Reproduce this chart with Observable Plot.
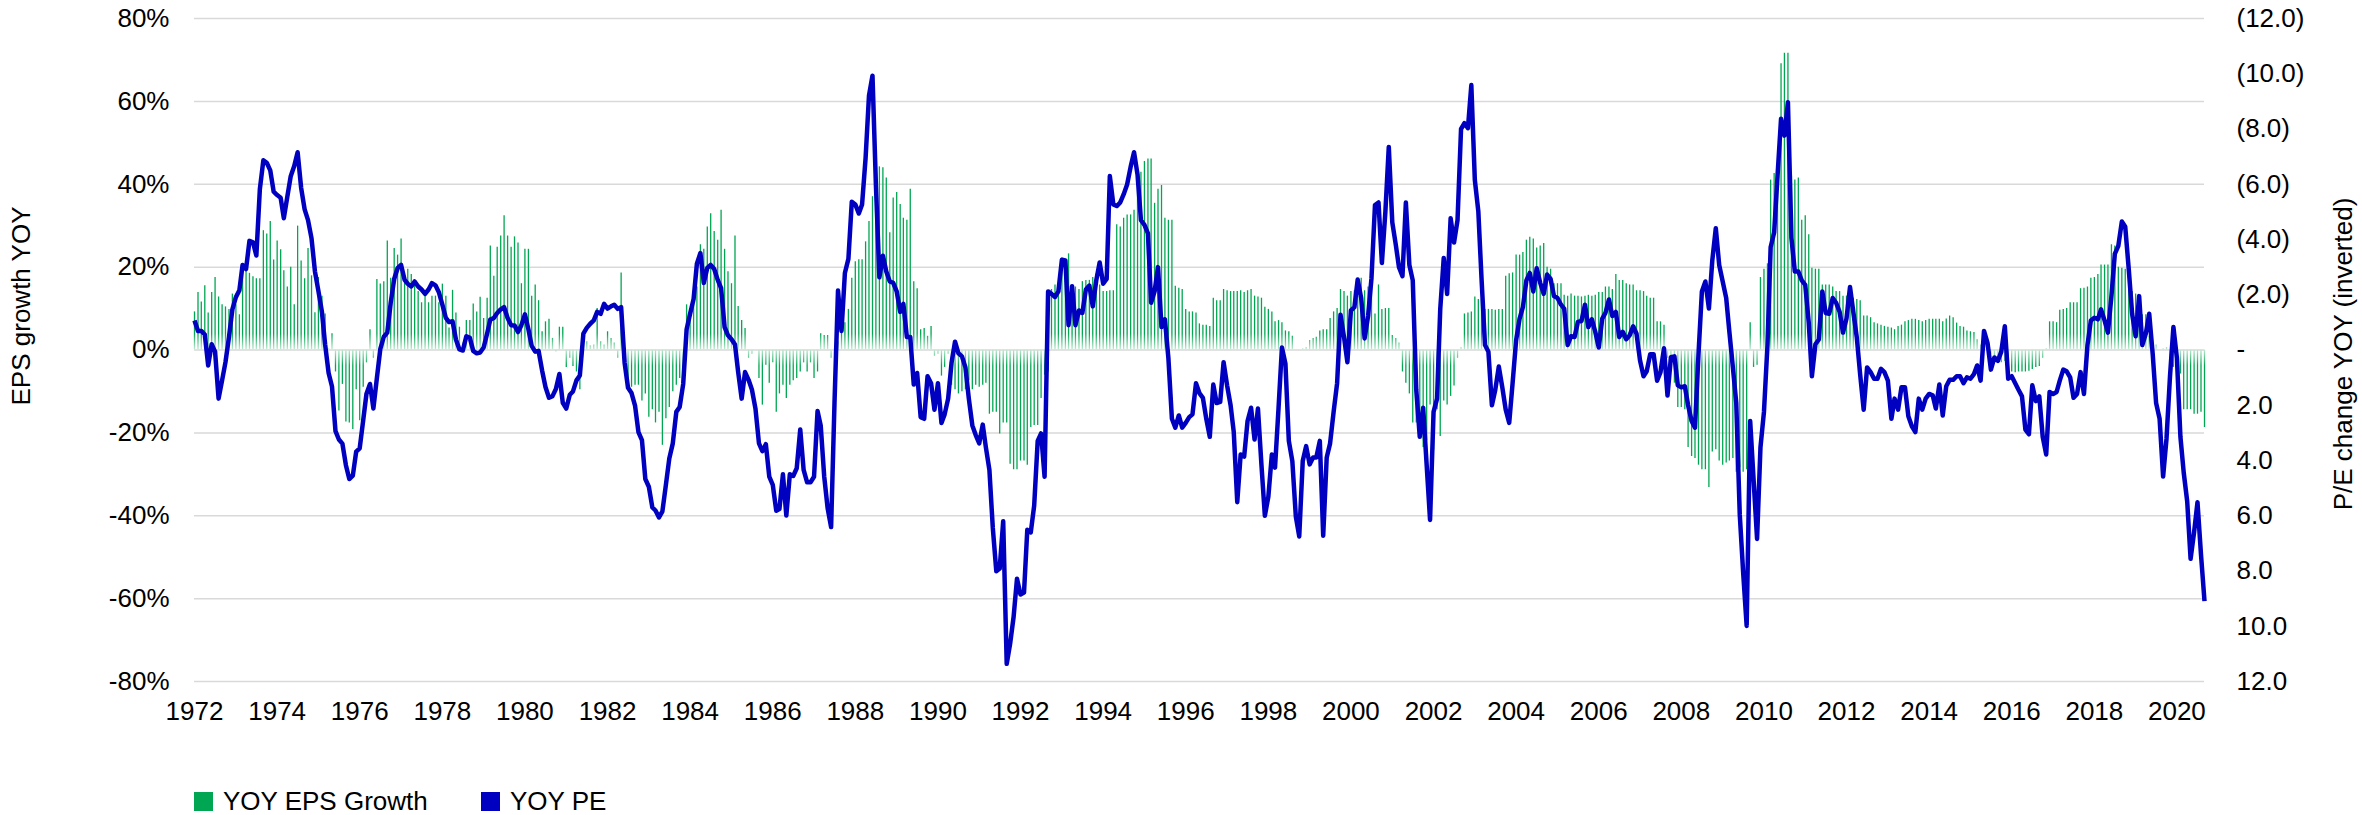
<!DOCTYPE html>
<html>
<head>
<meta charset="utf-8">
<script src="https://cdn.jsdelivr.net/npm/d3@7"></script>
<script src="https://cdn.jsdelivr.net/npm/@observablehq/plot@0.6"></script>
<style>
  html, body { margin: 0; padding: 0; background: #fff; }
  #wrap { position: relative; width: 2362px; height: 815px; overflow: hidden;
          font-family: "Liberation Sans", Arial, sans-serif; color: #000; background: #fff; }
  #wrap svg { position: absolute; left: 0; top: 0; }
  .ytitle { position: absolute; font-size: 26px; white-space: nowrap; writing-mode: vertical-rl;
            transform: translate(-50%, -50%) rotate(180deg); line-height: 1; }
  .leg { position: absolute; top: 787px; height: 28px; display: flex; align-items: center; font-size: 26px; white-space: nowrap; }
  .sw { width: 19px; height: 19px; display: inline-block; margin-right: 10px; }
</style>
</head>
<body>
<div id="wrap"></div>
<script>
// ---- data (monthly, starting January 1972) ----
const startYear = 1972;

// YOY EPS growth, % (left axis)
const epsGrowth = [
  9.2, 13.9, 11.6, 15.5, 8.9, 13.9, 17.5, 12.8, 10.9, 10.4, 9.8, 13.5,          // 1972
  10.9, 8.5, 19.7, 19.2, 18.5, 17.7, 17.2, 17.2, 28.8, 28, 31, 21.7,            // 1973
  26.3, 24.2, 19.1, 15.2, 20, 10.9, 29.9, 21.5, 17.2, 24.5, 17.9, 9,            // 1974
  17.5, 13, 8.7, 0.3, 3.9, -5.3, -14.7, -8.3, -17.4, -17.6, -19.2, -9.6,         // 1975
  -17.1, -9, -3.1, 4.9, -2, 17, 15.9, 16.5, 26.3, 17.3, 24.5, 22.9,             // 1976
  26.8, 16.5, 19.5, 18.2, 16.5, 14.1, 11.4, 13, 11.4, 13, 13, 11.4,             // 1977
  15.9, 13, 5.3, 14.4, 8.9, 5.5, 1.7, 7.1, 7.1, 11.1, 9.2, 12.7,                // 1978
  7.6, 12.5, 25.1, 17.8, 24.8, 27.5, 32.4, 27.5, 24.8, 27.3, 25.8, 16,          // 1979
  24.3, 24.3, 13, 15.7, 11.9, 4.4, 6.8, 7.4, 2.8, -0.5, 5.5, 5.5,               // 1980
  -4.2, -2, -4, -5.3, -9.6, -1, 2, 1, 1.2, 10, 2, 1.2,                          // 1981
  4.4, 2.8, 1.7, -2, 18.6, -1, -8.5, -9, -8.5, -8.5, -12.3, -10.6,              // 1982
  -16.2, -14.4, -17.6, -15, -23, -16.6, -13.9, -10.1, -8.5, -6.9, -5.8, 10.9,   // 1983
  8.7, 11.4, 15.2, 25.4, 24.3, 29.7, 32.9, 28.6, 26.5, 33.7, 24.3, 18.9,        // 1984
  16, 27.5, 10.5, 7.1, 5.2, -2, -1, 0, -6.9, -13.3, -3.7, -8,                   // 1985
  -3.1, -15, -10.6, -8.5, -11.7, -8.5, -7.4, -6.9, -5.3, -3.1, -5.3, -3.1,      // 1986
  -6.9, -5.3, 3.9, 3.5, 3.5, -2, -1, 2, 4.9, 6.6, 9.8, 17.3,                    // 1987
  21.3, 21.8, 21.8, 26.1, 31, 37, 44.2, 44.2, 44, 41.5, 28.3, 36.7,             // 1988
  38, 35.1, 31.8, 31.3, 38.8, 16.5, 14.8, 4.9, 5.2, 3.3, 5.7, -1.5,             // 1989
  -1, -6.3, -4.2, -1, -8.5, -9.6, -10.6, -10.1, -9.6, -7.4, -9.6, -8.5,         // 1990
  -9, -8.5, -8, -15.5, -15, -15, -20.3, -17.6, -17.6, -27.6, -28.9, -28.9,      // 1991
  -26.8, -26.8, -27.8, -18.7, -18.2, -18.2, -11.7, -6.1, -5.3, 14.6, 15.7, 16,  // 1992
  22.2, 21.6, 23.2, 14.1, 15.2, 14.6, 16.5, 16.8, 16.8, 17.5, 18.4, 15.7,       // 1993
  14.1, 14.1, 14.3, 14.3, 30.2, 29.7, 31.8, 32.6, 32.6, 33.7, 42, 42.9,         // 1994
  45.5, 46.1, 46.1, 35.4, 38.8, 39.7, 31.8, 31.3, 31.3, 15.4, 14.9, 14.6,       // 1995
  9.8, 9.2, 9.2, 8.9, 6.3, 6, 6, 5.7, 12.5, 11.9, 11.9, 14.6,                   // 1996
  14.3, 14.1, 14.1, 14.1, 14.3, 13.9, 14.3, 14.6, 13, 12.8, 12.5, 10.3,         // 1997
  9.8, 9.2, 6.8, 7.1, 6.6, 4.6, 4.4, 3.3, 0, 0, 0.3, 0.6,                       // 1998
  2.3, 2.8, 3.1, 4.6, 4.9, 4.9, 7.6, 9.2, 10, 14.6, 14.1, 13,                   // 1999
  14.1, 14.3, 13, 17.3, 14.3, 15.2, 17.1, 8.7, 15.7, 9.8, 10, 10,               // 2000
  3.5, 2.8, 1.7, -5.3, -8, -10.6, -17.6, -17.6, -18, -23.5, -21.9, -13.3,       // 2001
  -24.1, -14.4, -20.9, -12.3, -13.3, -11.2, -8.7, -2, 0.6, 8.7, 8.9, 9.2,       // 2002
  12.8, 12.2, 12.2, 9.8, 9.8, 9.8, 9.6, 9.8, 9.8, 17.8, 18.4, 18.6,             // 2003
  22.9, 22.9, 23.5, 26.5, 27.2, 26.8, 24.6, 25.1, 25.7, 20, 19.5, 16,           // 2004
  16, 16, 13.2, 13, 13.5, 13, 13, 12.8, 13, 13.2, 13, 13.2,                     // 2005
  13.9, 13.9, 15.2, 15.2, 14.6, 18.2, 16.8, 16.8, 16, 15.7, 15.7, 14.3,         // 2006
  14.3, 14.1, 13, 12.5, 12.5, 6.8, 6.8, 6, -2, -5, -8, -13.9,                   // 2007
  -13.9, -14.4, -23.5, -25.7, -26.2, -27.8, -28.9, -28.9, -33.2, -24.6, -24.1, -26.8, // 2008
  -27.8, -27.3, -26.8, -26.2, -29.5, -28.4, -29.5, -28.9, 6.6, -4.2, -3.7, 17.5, // 2009
  19.5, 20.8, 41, 42.6, 42.6, 69.1, 71.6, 71.6, 42, 41, 41.5, 31.3,             // 2010
  32.4, 27.8, 19.7, 19.5, 19.5, 15.7, 15.7, 15.7, 15.2, 14.1, 14.1, 13,         // 2011
  13, 13, 12.5, 12.2, 11.9, 8.2, 8.2, 7.8, 6.6, 6.3, 6, 5.7,                    // 2012
  5.5, 5.3, 4.9, 5.7, 6, 6.8, 7.1, 7.4, 7.4, 7.1, 6.8, 7.1,                     // 2013
  7.4, 7.4, 7.4, 7.4, 6.8, 7.5, 8.2, 7.8, 6.5, 5.7, 5.5, 4.6,                   // 2014
  4.4, 4.2, 2.5, 1.2, 0.3, -0.4, -1, -1.5, -2, -3.1, -2.8, -3.1,                // 2015
  -5.3, -5.5, -5.3, -5.3, -5.3, -5.1, -4.7, -4.2, -4, -2, 0.3, 6.8,             // 2016
  6.8, 6.6, 9.6, 9.8, 10, 11.4, 11.4, 11.4, 14.8, 14.9, 15.2, 17.3,             // 2017
  17.5, 18.2, 20.5, 20.5, 20.5, 25.4, 25.1, 20, 19.7, 19.5, 15.2, 14.1,         // 2018
  13.5, 8.7, 8.5, 8.5, 3.3, 1.2, 1.2, 0, 0.3, 0.6, -2, -4.2,                    // 2019
  -5.3, -5.8, -14.4, -14.4, -14.4, -15.5, -15.5, -15, -18.7                     // 2020
];

// YOY change in P/E (right axis, inverted)
const peChange = [
  -1.07, -0.69, -0.69, -0.56, 0.56, -0.21, 0.06, 1.76, 1.10, 0.44, -0.47, -1.47,   // 1972
  -1.91, -2.16, -3.08, -2.93, -3.95, -3.90, -3.42, -5.82, -6.87, -6.78, -6.50, -5.73, // 1973
  -5.61, -5.51, -4.77, -5.55, -6.29, -6.66, -7.16, -5.87, -5.09, -4.70, -4.04, -2.85, // 1974
  -2.13, -1.38, -0.21, 0.83, 1.32, 2.94, 3.24, 3.39, 4.17, 4.67, 4.55, 3.68,       // 1975
  3.56, 2.54, 1.58, 1.23, 2.12, 1.01, -0.03, -0.48, -0.63, -1.70, -2.57, -2.96,    // 1976
  -3.08, -2.54, -2.40, -2.30, -2.48, -2.30, -2.19, -2.03, -2.19, -2.42, -2.34, -2.09, // 1977
  -1.64, -1.16, -1.01, -1.04, -0.38, -0.02, 0.02, -0.50, -0.44, 0.03, 0.12, 0.09,  // 1978
  -0.09, -0.60, -1.10, -1.16, -1.34, -1.47, -1.55, -1.16, -0.90, -0.89, -0.65, -0.90, // 1979
  -1.29, -0.75, -0.15, 0.06, 0.03, 0.74, 1.34, 1.73, 1.67, 1.41, 0.87, 1.91,       // 1980
  2.12, 1.62, 1.50, 1.10, 0.92, -0.59, -0.80, -0.95, -1.07, -1.38, -1.31, -1.67,   // 1981
  -1.50, -1.58, -1.64, -1.49, -1.55, 0.47, 1.37, 1.56, 2.01, 2.97, 3.26, 4.67,     // 1982
  4.95, 5.70, 5.81, 6.06, 5.84, 4.88, 3.93, 3.38, 2.24, 2.06, 1.23, -0.74,         // 1983
  -1.31, -1.85, -3.12, -3.51, -2.43, -2.97, -3.08, -2.93, -2.54, -2.24, -0.83, -0.53, // 1984
  -0.39, -0.20, 0.80, 1.76, 0.80, 1.08, 1.44, 2.12, 3.38, 3.66, 3.41, 4.58,        // 1985
  4.88, 5.82, 5.76, 4.50, 5.99, 4.50, 4.56, 4.28, 2.88, 4.34, 4.79, 4.79,          // 1986
  4.59, 2.21, 2.73, 4.58, 5.72, 6.41, 1.92, -2.15, -0.69, -2.79, -3.30, -5.37,     // 1987
  -5.27, -4.94, -5.27, -6.95, -9.21, -9.93, -6.00, -2.63, -3.41, -2.84, -2.48, -2.43, // 1988
  -2.12, -1.38, -1.67, -0.47, -0.47, 1.25, 0.83, 2.43, 2.49, 0.95, 1.20, 2.16,     // 1989
  1.20, 2.64, 2.33, 1.76, 0.47, -0.30, 0.12, 0.23, 0.63, 1.76, 2.73, 3.08,         // 1990
  3.38, 2.70, 3.53, 4.34, 6.44, 8.01, 7.91, 6.20, 11.36, 10.64, 9.66, 8.28,        // 1991
  8.85, 8.78, 6.51, 6.60, 5.63, 3.29, 3.02, 4.59, -2.12, -2.03, -1.92, -2.12,      // 1992
  -3.27, -3.24, -0.90, -2.31, -0.90, -1.43, -1.34, -2.19, -2.33, -1.58, -2.52, -3.17, // 1993
  -2.40, -2.57, -6.30, -5.27, -5.21, -5.34, -5.63, -5.99, -6.63, -7.16, -6.35, -4.70, // 1994
  -4.53, -4.22, -1.71, -2.12, -3.00, -0.83, -1.11, 0.30, 2.49, 2.81, 2.37, 2.81,   // 1995
  2.64, 2.43, 2.33, 1.20, 1.56, 1.73, 2.49, 3.14, 1.25, 1.92, 1.88, 0.44,          // 1996
  1.28, 2.00, 2.97, 5.51, 3.78, 3.86, 2.57, 2.09, 3.24, 2.12, 4.17, 6.00,          // 1997
  5.31, 3.78, 4.26, 2.10, -0.09, 0.50, 3.29, 4.02, 6.03, 6.75, 4.02, 3.48,         // 1998
  4.14, 3.89, 3.89, 3.29, 6.72, 3.89, 3.38, 2.24, 1.20, -1.28, -0.47, 0.44,        // 1999
  -1.43, -1.55, -2.55, -1.88, -0.42, -1.23, -2.60, -5.25, -5.34, -3.15, -5.01, -7.35, // 2000
  -4.62, -3.81, -3.00, -2.67, -5.34, -3.08, -2.52, 1.44, 3.14, 2.09, 4.17, 6.15,   // 2001
  2.24, 1.76, -1.47, -3.33, -2.03, -4.77, -3.89, -4.70, -8.00, -8.21, -8.03, -9.59, // 2002
  -6.15, -5.01, -2.60, -0.18, 0.06, 2.00, 1.44, 0.60, 1.35, 2.16, 2.64, 1.20,      // 2003
  -0.35, -1.14, -1.55, -2.52, -2.79, -2.12, -2.96, -2.43, -2.03, -2.73, -2.57, -1.95, // 2004
  -1.88, -1.64, -1.50, -0.18, -0.50, -0.47, -1.02, -1.05, -1.64, -0.83, -1.11, -0.66, // 2005
  -0.09, -1.14, -1.34, -1.83, -1.23, -1.38, -0.47, -0.66, -0.39, -0.53, -0.86, -0.59, // 2006
  0.38, 0.95, 0.77, 0.15, 0.15, 1.11, 0.80, -0.06, 1.65, 0.26, 0.23, 1.28,         // 2007
  1.35, 1.31, 2.00, 2.57, 2.81, 0.15, -2.12, -2.48, -1.50, -3.24, -4.41, -3.08,    // 2008
  -2.48, -1.88, -0.66, 0.63, 1.92, 5.96, 8.06, 9.99, 2.57, 4.67, 6.84, 3.53,       // 2009
  2.24, -0.18, -3.72, -4.25, -6.30, -8.37, -7.76, -8.97, -4.05, -2.84, -2.84, -2.52, // 2010
  -2.36, -0.99, 0.95, -0.21, -0.38, -2.12, -1.34, -1.31, -1.88, -1.71, -1.38, -0.63, // 2011
  -1.14, -2.28, -1.38, -0.45, 0.90, 2.16, 0.63, 0.80, 1.04, 1.04, 0.68, 0.80,      // 2012
  1.11, 2.49, 1.76, 2.16, 1.35, 1.35, 2.40, 2.76, 2.97, 1.76, 2.16, 1.76,          // 2013
  1.59, 1.64, 2.12, 1.25, 2.37, 1.31, 1.08, 1.08, 0.95, 0.95, 1.20, 0.99,          // 2014
  1.04, 0.87, 0.56, 1.11, -0.69, -0.26, 0.71, 0.27, 0.39, 0.06, -0.86, 1.04,       // 2015
  0.95, 1.20, 1.44, 1.68, 2.88, 3.05, 1.28, 1.85, 1.68, 3.14, 3.78, 1.52,          // 2016
  1.59, 1.52, 1.11, 0.71, 0.77, 0.99, 1.73, 1.59, 0.80, 1.59, -0.18, -1.07,        // 2017
  -1.17, -1.11, -1.47, -1.07, -0.63, -1.95, -3.48, -3.77, -4.65, -4.46, -2.93, -1.31, // 2018
  -0.50, -1.95, -0.18, -0.59, -1.31, 0.15, 1.92, 2.49, 4.58, 3.21, 0.95, -0.83,    // 2019
  0.30, 3.14, 4.43, 5.48, 7.56, 6.60, 5.51, 7.41, 9.09                             // 2020
];

const yearTicks = [1972, 1974, 1976, 1978, 1980, 1982, 1984, 1986, 1988, 1990, 1992, 1994,
                   1996, 1998, 2000, 2002, 2004, 2006, 2008, 2010, 2012, 2014, 2016, 2018, 2020];
const epsTicks = [-80, -60, -40, -20, 0, 20, 40, 60, 80];
const peTicks = [-12, -10, -8, -6, -4, -2, 0, 2, 4, 6, 8, 10, 12];
const seriesNames = ["YOY EPS Growth", "YOY PE"];
const seriesColors = ["#00a651", "#0000c0"];
const axisTitles = ["EPS growth YOY", "P/E change YOY (inverted)"];

// ---- chart ----
const data = epsGrowth.map((v, i) => ({
  date: new Date(Date.UTC(startYear, i, 1)),
  eps: v,
  pe: peChange[i]
}));

// right axis (P/E, inverted) shares the frame: ±12 P/E  <->  ±80 %
const peToY = p => -p * 80 / 12;
const fmtPE = v => v === 0 ? "-" : v < 0 ? `(${(-v).toFixed(1)})` : v.toFixed(1);

const W = 2362, H = 740;
const chart = Plot.plot({
  width: W,
  height: H,
  marginTop: 18,
  marginBottom: 59,
  marginLeft: 194,
  marginRight: 158,
  style: {fontFamily: '"Liberation Sans", Arial, sans-serif', fontSize: "26px", color: "#000", background: "#fff"},
  x: {type: "utc", domain: [data[0].date, data[data.length - 1].date]},
  y: {domain: [-80, 80]},
  marks: [
    Plot.gridY(epsTicks, {stroke: "#d9d9d9", strokeOpacity: 1, strokeWidth: 1.5}),
    Plot.ruleX(data, {x: "date", y1: 0, y2: "eps", stroke: "url(#epsGrad)", strokeWidth: 1.3}),
    Plot.line(data, {x: "date", y: d => peToY(d.pe), stroke: seriesColors[1], strokeWidth: 4.5,
                     strokeLinejoin: "round", strokeLinecap: "butt"}),
    Plot.axisY(epsTicks, {tickSize: 0, tickPadding: 25, tickFormat: v => `${v}%`, label: null, fontSize: 26}),
    Plot.text(peTicks, {y: peToY, frameAnchor: "right", dx: 32, textAnchor: "start", text: fmtPE, fontSize: 26}),
    Plot.axisX(yearTicks.map(y => new Date(Date.UTC(y, 0, 1))),
               {tickSize: 0, tickPadding: 20, tickFormat: d => String(d.getUTCFullYear()), label: null, fontSize: 26})
  ]
});

// gradient for the EPS bars: pale close to the zero line, full green away from it
const y0 = chart.scale("y").apply(0);
const NS = "http://www.w3.org/2000/svg";
const defs = document.createElementNS(NS, "defs");
const grad = document.createElementNS(NS, "linearGradient");
grad.setAttribute("id", "epsGrad");
grad.setAttribute("gradientUnits", "userSpaceOnUse");
grad.setAttribute("x1", 0); grad.setAttribute("x2", 0);
grad.setAttribute("y1", y0 - 16); grad.setAttribute("y2", y0 + 16);
[[0, seriesColors[0]], [0.5, "#c4ead4"], [1, seriesColors[0]]].forEach(([o, c]) => {
  const s = document.createElementNS(NS, "stop");
  s.setAttribute("offset", o);
  s.setAttribute("stop-color", c);
  grad.appendChild(s);
});
defs.appendChild(grad);
chart.insertBefore(defs, chart.firstChild);

const wrap = document.getElementById("wrap");
wrap.appendChild(chart);

// axis titles
const t1 = document.createElement("div");
t1.className = "ytitle";
t1.style.left = "21px"; t1.style.top = "306px";
t1.textContent = axisTitles[0];
wrap.appendChild(t1);
const t2 = document.createElement("div");
t2.className = "ytitle";
t2.style.left = "2343px"; t2.style.top = "354px";
t2.textContent = axisTitles[1];
wrap.appendChild(t2);

// legend (below the chart)
const legLeft = [194, 481];
seriesNames.forEach((name, i) => {
  const item = document.createElement("div");
  item.className = "leg";
  item.style.left = legLeft[i] + "px";
  const sw = document.createElement("span");
  sw.className = "sw";
  sw.style.background = seriesColors[i];
  item.appendChild(sw);
  item.appendChild(document.createTextNode(name));
  wrap.appendChild(item);
});
</script>
</body>
</html>
